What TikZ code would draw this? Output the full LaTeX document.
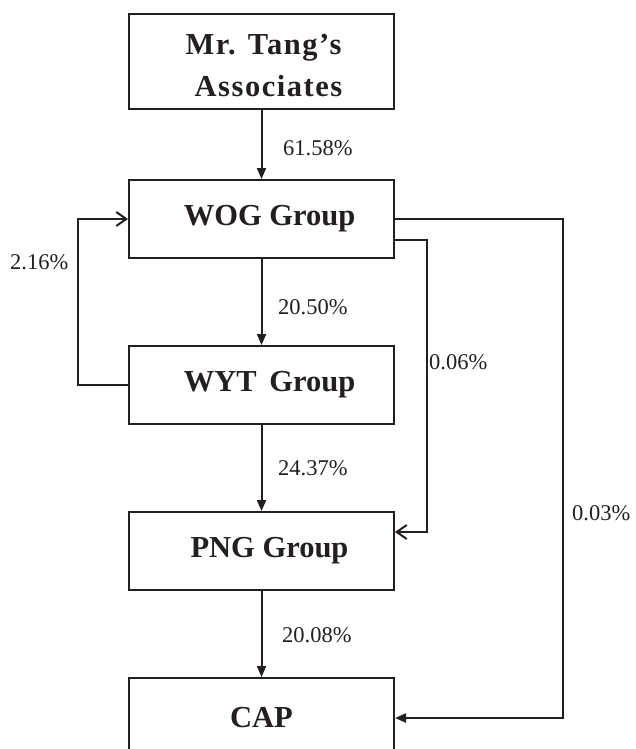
\documentclass[tikz,border=0pt]{standalone}
\usepackage{fontspec}
\setmainfont{Liberation Serif}
\newfontfamily\spacedbold[LetterSpace=5]{Liberation Serif}
\usetikzlibrary{arrows.meta}
\definecolor{ink}{HTML}{231F20}
\begin{document}
\begin{tikzpicture}[x=1pt,y=-1pt,
  box/.style={draw=ink, line width=2pt, minimum width=265pt, inner sep=0pt,
    text=ink, font=\bfseries\fontsize{30.5}{42}\selectfont, align=center},
  arr/.style={draw=ink, line width=2pt, -{Triangle[length=11pt,width=9pt]}},
  openarr/.style={draw=ink, line width=2pt, -{Straight Barb[length=10pt,width=14pt,line width=2pt]}},
  thinarr/.style={draw=ink, line width=1.5pt, -{Straight Barb[length=10pt,width=14pt,line width=2pt]}},
  lbl/.style={text=ink, inner sep=0pt, anchor=west, font=\fontsize{22.5}{26}\selectfont}]
\useasboundingbox (0,0) rectangle (635,749);
\clip (0,0) rectangle (635,749);
\fill[white] (0,0) rectangle (635,749);

\node[box, minimum height=95pt] (tang) at (261.5,61.5)
  {\rule{0pt}{28pt}\hspace*{4pt}\spacedbold\bfseries Mr. Tang’s\\\hspace*{14pt}\spacedbold\bfseries Associates};
\node[box, minimum height=78pt] (wog) at (261.5,219) {\hspace*{16pt}WOG Group};
\node[box, minimum height=78pt] (wyt) at (261.5,385) {\hspace*{16pt}WYT\, Group};
\node[box, minimum height=78pt] (png) at (261.5,551) {\hspace*{16pt}PNG Group};
\node[box, minimum height=80pt] (cap) at (261.5,718) {CAP};

\draw[arr] (tang) -- (wog);
\draw[arr] (wog) -- (wyt);
\draw[arr] (wyt) -- (png);
\draw[arr] (png) -- (cap);

\draw[openarr] (wyt.west) -- ++(-50,0) |- (wog.west);
\coordinate (wogb) at ([yshift=-21pt]wog.east);
\coordinate (pngin) at ([yshift=19pt]png.east);
\draw[thinarr] (wogb) -- ++(32,0) |- (pngin);
\draw[arr] (wog.east) -- ++(168,0) |- (cap.east);

\node[lbl] (l1) at (283,148) {61.58\%};
\node[lbl] (l2) at (278,307) {20.50\%};
\node[lbl] (l3) at (278,468) {24.37\%};
\node[lbl] (l4) at (282,635) {20.08\%};
\node[lbl] (l5) at (10,262) {2.16\%};
\node[lbl] (l6) at (429,362) {0.06\%};
\node[lbl] (l7) at (572,513) {0.03\%};
\end{tikzpicture}
\end{document}
